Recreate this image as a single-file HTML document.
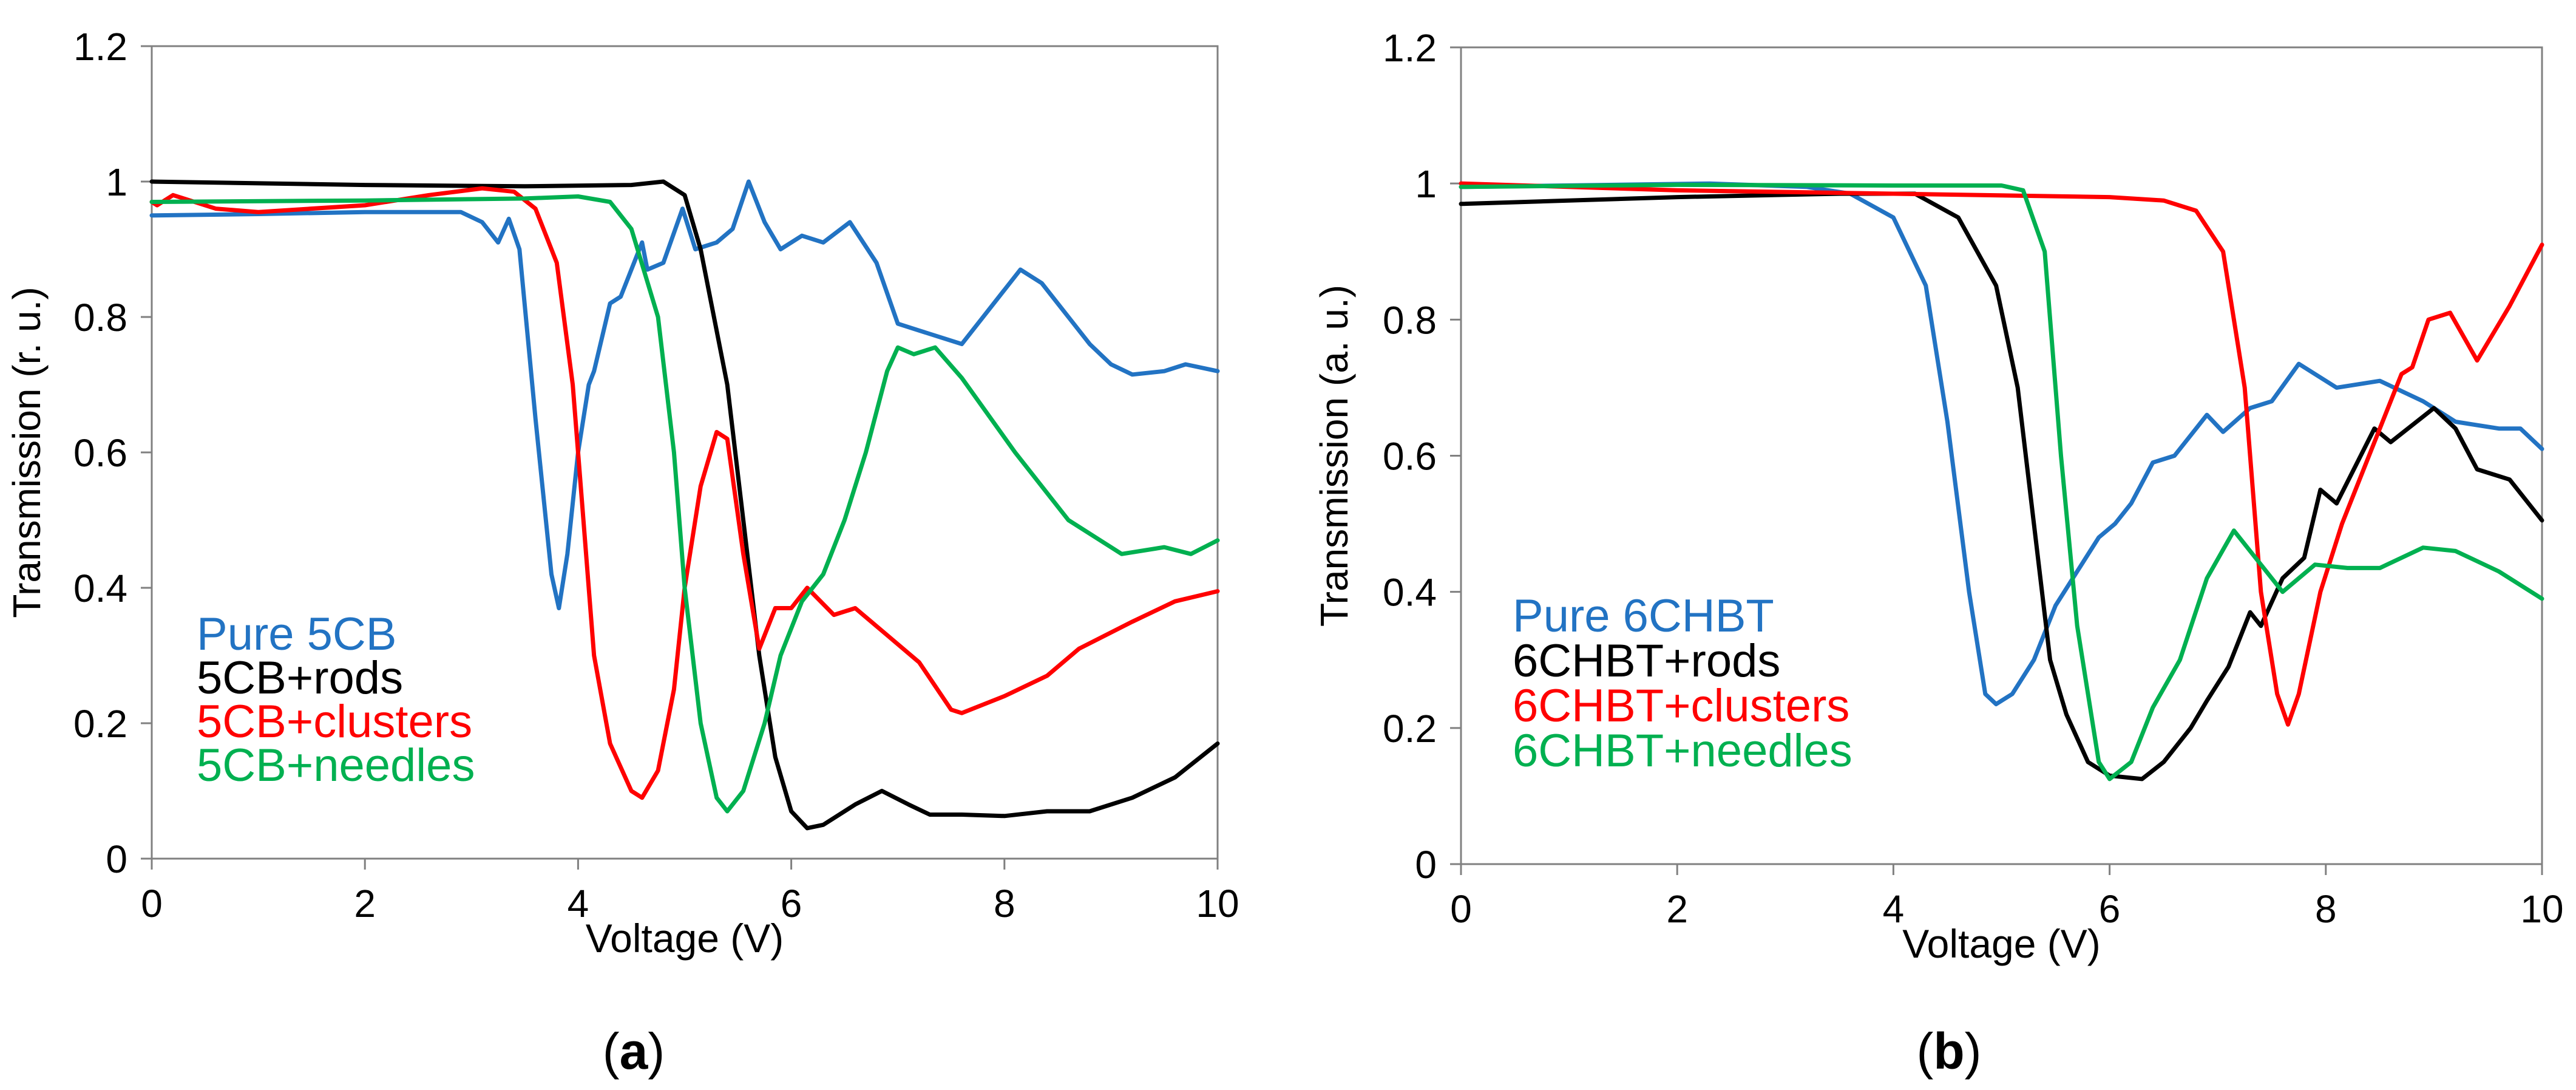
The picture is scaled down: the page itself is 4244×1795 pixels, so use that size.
<!DOCTYPE html>
<html>
<head>
<meta charset="utf-8">
<style>
html,body{margin:0;padding:0;background:#fff;}
svg{display:block;}
text{font-family:"Liberation Sans",Arial,sans-serif;}
</style>
</head>
<body>
<svg id="fig" width="4244" height="1795" viewBox="0 0 4244 1795" xmlns="http://www.w3.org/2000/svg"></svg>
<script>
// ---------- data: panel (a) ----------
const a_blueV=[0,1,2,2.9,3.1,3.25,3.35,3.45,3.6,3.75,3.82,3.9,4.0,4.1,4.15,4.3,4.4,4.6,4.65,4.8,4.98,5.1,5.3,5.45,5.6,5.75,5.9,6.1,6.3,6.55,6.8,7.0,7.2,7.4,7.6,7.8,8.15,8.35,8.6,8.8,9.0,9.2,9.5,9.7,10];
const a_blueT=[0.95,0.952,0.955,0.955,0.94,0.91,0.945,0.9,0.65,0.42,0.37,0.45,0.6,0.7,0.72,0.82,0.83,0.91,0.87,0.88,0.96,0.9,0.91,0.93,1.0,0.94,0.9,0.92,0.91,0.94,0.88,0.79,0.78,0.77,0.76,0.8,0.87,0.85,0.8,0.76,0.73,0.715,0.72,0.73,0.72];
const a_blackV=[0,2,3.5,4.5,4.8,5.0,5.15,5.4,5.55,5.7,5.85,6.0,6.15,6.3,6.6,6.85,7.1,7.3,7.6,8.0,8.4,8.8,9.2,9.6,10];
const a_blackT=[1.0,0.995,0.993,0.995,1.0,0.98,0.9,0.7,0.5,0.3,0.15,0.07,0.045,0.05,0.08,0.1,0.08,0.065,0.065,0.063,0.07,0.07,0.09,0.12,0.17];
const a_redV=[0,0.05,0.2,0.6,1.0,2.0,2.6,3.1,3.4,3.6,3.8,3.95,4.05,4.15,4.3,4.5,4.6,4.75,4.9,5.0,5.15,5.3,5.4,5.55,5.7,5.85,6.0,6.15,6.4,6.6,6.9,7.2,7.5,7.6,8.0,8.4,8.7,9.2,9.6,10];
const a_redT=[0.97,0.965,0.98,0.96,0.955,0.965,0.98,0.99,0.985,0.96,0.88,0.7,0.5,0.3,0.17,0.1,0.09,0.13,0.25,0.4,0.55,0.63,0.62,0.45,0.31,0.37,0.37,0.4,0.36,0.37,0.33,0.29,0.22,0.215,0.24,0.27,0.31,0.35,0.38,0.395];
const a_greenV=[0,2,3.5,4.0,4.3,4.5,4.75,4.9,5.0,5.15,5.3,5.4,5.55,5.75,5.9,6.1,6.3,6.5,6.7,6.9,7.0,7.15,7.35,7.6,8.1,8.6,9.1,9.5,9.75,10];
const a_greenT=[0.97,0.972,0.975,0.978,0.97,0.93,0.8,0.6,0.4,0.2,0.09,0.07,0.1,0.2,0.3,0.38,0.42,0.5,0.6,0.72,0.755,0.745,0.755,0.71,0.6,0.5,0.45,0.46,0.45,0.47];
// ---------- data: panel (b) ----------
const b_blueV=[0,2.3,3.2,3.6,4.0,4.3,4.5,4.7,4.85,4.95,5.1,5.3,5.5,5.7,5.9,6.05,6.2,6.4,6.6,6.8,6.9,7.05,7.3,7.5,7.75,8.1,8.5,8.9,9.2,9.6,9.8,10];
const b_blueT=[0.995,1.0,0.995,0.985,0.95,0.85,0.65,0.4,0.25,0.235,0.25,0.3,0.38,0.43,0.48,0.5,0.53,0.59,0.6,0.64,0.66,0.635,0.67,0.68,0.735,0.7,0.71,0.68,0.65,0.64,0.64,0.61];
const b_blackV=[0,2,3.5,4.2,4.6,4.95,5.15,5.3,5.45,5.6,5.8,6.0,6.3,6.5,6.75,6.9,7.1,7.3,7.4,7.6,7.8,7.95,8.1,8.45,8.6,9.0,9.2,9.4,9.7,10];
const b_blackT=[0.97,0.98,0.985,0.985,0.95,0.85,0.7,0.5,0.3,0.22,0.15,0.13,0.125,0.15,0.2,0.24,0.29,0.37,0.35,0.42,0.45,0.55,0.53,0.64,0.62,0.67,0.64,0.58,0.565,0.505];
const b_redV=[0,2,4,6,6.5,6.8,7.05,7.25,7.4,7.55,7.65,7.75,7.95,8.15,8.4,8.7,8.8,8.95,9.15,9.4,9.7,10];
const b_redT=[1.0,0.99,0.985,0.98,0.975,0.96,0.9,0.7,0.4,0.25,0.205,0.25,0.4,0.5,0.6,0.72,0.73,0.8,0.81,0.74,0.82,0.91];
const b_greenV=[0,2,4,5.0,5.2,5.4,5.55,5.7,5.9,6.0,6.2,6.4,6.65,6.9,7.15,7.4,7.6,7.9,8.2,8.5,8.9,9.2,9.6,10];
const b_greenT=[0.995,0.998,0.997,0.997,0.99,0.9,0.6,0.35,0.15,0.125,0.15,0.23,0.3,0.42,0.49,0.44,0.4,0.44,0.435,0.435,0.465,0.46,0.43,0.39];
const xTicks=[0,2,4,6,8,10];
const yTicks=[0,0.2,0.4,0.6,0.8,1,1.2];
const yTickLabels=["0","0.2","0.4","0.6","0.8","1","1.2"];
const legendA=["Pure 5CB","5CB+rods","5CB+clusters","5CB+needles"];
const legendB=["Pure 6CHBT","6CHBT+rods","6CHBT+clusters","6CHBT+needles"];

const NS="http://www.w3.org/2000/svg";
const svg=document.getElementById('fig');
const COLORS=["#2273c3","#000000","#ff0000","#00b050"];
function mk(tag,attrs,parent,txt){const e=document.createElementNS(NS,tag);for(const k in attrs)e.setAttribute(k,attrs[k]);if(txt!==undefined)e.textContent=txt;(parent||svg).appendChild(e);return e;}

function panel(id,P,series,legend,ytitle,label,legX,legY0,legDY,ytX,labX){
  const g=mk('g',{});
  
  
  const sx=v=>P.x0+(P.x1-P.x0)*v/10;
  const sy=t=>P.y0-(P.y0-P.y1)*t/1.2;
  const fr=mk('rect',{x:P.x0,y:P.y1,width:P.x1-P.x0,height:P.y0-P.y1,fill:'none',stroke:'#808080','stroke-width':3},g);
  
  
  yTicks.forEach((t,i)=>{
    const tk=mk('line',{x1:P.x0-18,x2:P.x0,y1:sy(t),y2:sy(t),stroke:'#808080','stroke-width':3},g);
    
    
    const tl=mk('text',{x:P.x0-40,y:sy(t)+23,'font-size':64,'text-anchor':'end',fill:'#000'},g,yTickLabels[i]);
    
    
  });
  xTicks.forEach(v=>{
    const tk=mk('line',{x1:sx(v),x2:sx(v),y1:P.y0,y2:P.y0+18,stroke:'#808080','stroke-width':3},g);
    
    
    const tl=mk('text',{x:sx(v),y:P.y0+96,'font-size':64,'text-anchor':'middle',fill:'#000'},g,String(v));
    
    
  });
  const xt=mk('text',{x:(P.x0+P.x1)/2,y:P.y0+154,'font-size':66,'text-anchor':'middle',fill:'#000'},g,'Voltage (V)');
  
  
  const yc=(P.y0+P.y1)/2;
  const yt=mk('text',{x:ytX,y:yc,'font-size':64,'text-anchor':'middle',fill:'#000',transform:`rotate(-90 ${ytX} ${yc})`},g,ytitle);
  
  
  series.forEach((s,i)=>{
    let d='';
    s[0].forEach((v,j)=>{d+=(j?'L':'M')+sx(v).toFixed(1)+','+sy(s[1][j]).toFixed(1);});
    const p=mk('path',{d:d,fill:'none',stroke:COLORS[i],'stroke-width':7,'stroke-linejoin':'round','stroke-linecap':'round'},g);
    
    
  });
  legend.forEach((L,i)=>{
    const t=mk('text',{x:legX,y:legY0+i*legDY,'font-size':76,fill:COLORS[i]},g,L);
    
    
  });
  const lb=mk('text',{x:labX,y:1760,'font-size':84,'text-anchor':'middle',fill:'#000','font-family':'"Liberation Serif",serif'},g);
  
  
  mk('tspan',{},lb,'(');
  mk('tspan',{'font-weight':'bold'},lb,label);
  mk('tspan',{},lb,')');
}

panel('panel-a',{x0:250,x1:2006,y0:1414,y1:76},
  [[a_blueV,a_blueT],[a_blackV,a_blackT],[a_redV,a_redT],[a_greenV,a_greenT]],
  legendA,'Transmission (r. u.)','a',324,1070,72,66,1044);
panel('panel-b',{x0:2407,x1:4188,y0:1423,y1:78},
  [[b_blueV,b_blueT],[b_blackV,b_blackT],[b_redV,b_redT],[b_greenV,b_greenT]],
  legendB,'Transmission (a. u.)','b',2492,1040,74,2220,3211);
</script>
</body>
</html>
